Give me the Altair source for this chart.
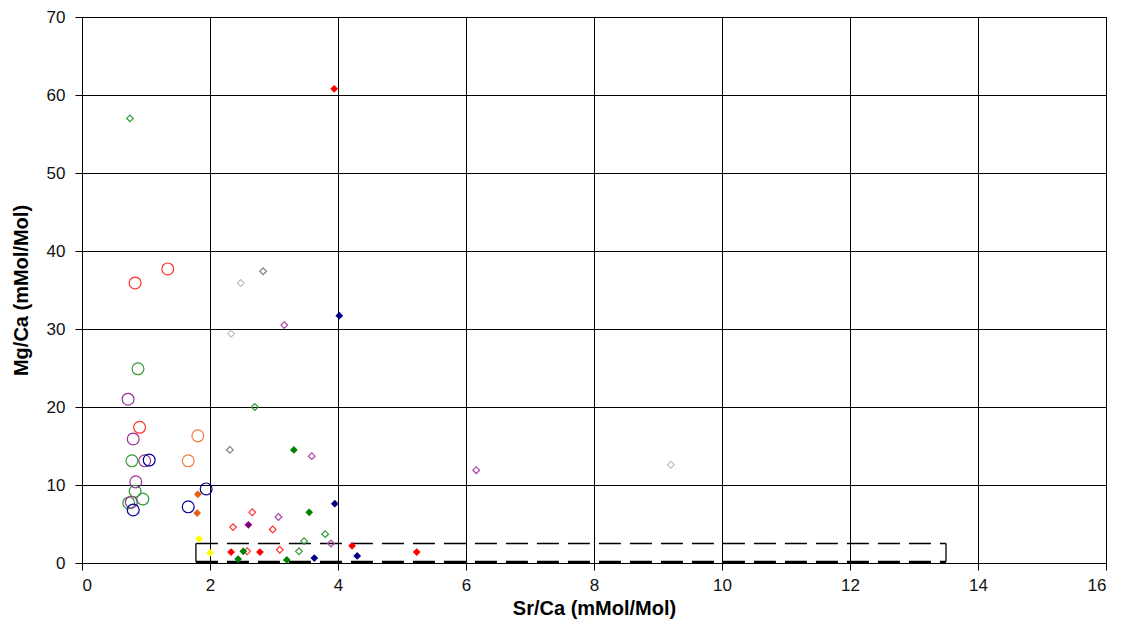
import altair as alt
import pandas as pd

# Sr/Ca vs Mg/Ca ratios (mMol/Mol), grouped by sample set and marker style
series = [
    # name, marker, color, Sr/Ca values, Mg/Ca values
    ("Red circles", "circle", "#FF3333", [0.83, 1.34, 0.90], [35.9, 37.7, 17.4]),
    ("Green circles", "circle", "#339933", [0.875, 0.78, 0.83, 0.95, 0.73], [24.9, 13.1, 9.2, 8.2, 7.7]),
    ("Purple circles", "circle", "#993399", [0.72, 0.80, 0.98, 0.84, 0.77], [21.0, 15.9, 13.1, 10.4, 7.8]),
    ("Navy circles", "circle", "#000099", [1.05, 1.94, 1.66, 0.80], [13.2, 9.5, 7.2, 6.8]),
    ("Orange circles", "circle", "#F07D3A", [1.81, 1.66], [16.3, 13.1]),
    ("Red diamonds", "diamond", "#FF0000", [3.94, 2.33, 2.78, 4.22, 5.23], [60.8, 1.4, 1.4, 2.2, 1.4]),
    ("Navy diamonds", "diamond", "#000080", [4.02, 3.95, 3.63, 4.30], [31.7, 7.6, 0.64, 0.9]),
    ("Green diamonds", "diamond", "#008000", [3.31, 3.55, 2.52, 2.44, 3.20], [14.5, 6.5, 1.5, 0.5, 0.4]),
    ("Purple diamonds", "diamond", "#800080", [2.60], [4.9]),
    ("Orange diamonds", "diamond", "#E06010", [1.81, 1.80], [8.8, 6.4]),
    ("Yellow diamonds", "diamond", "#FFFF00", [1.83, 2.00], [3.1, 1.3]),
    ("Green open diamonds", "open", "#339933", [0.75, 2.70, 3.47, 3.80, 3.39], [57.0, 20.0, 2.8, 3.7, 1.5]),
    ("Purple open diamonds", "open", "#AA44AA", [3.59, 3.07, 3.89, 3.16, 6.16], [13.7, 5.9, 2.5, 30.5, 11.9]),
    ("Red open diamonds", "open", "#FF3333", [2.66, 2.36, 2.98, 2.58, 3.09], [6.5, 4.6, 4.3, 1.5, 1.7]),
    ("Gray open diamonds", "open", "#808080", [2.83, 2.31], [37.4, 14.5]),
    ("Light gray open diamonds", "open", "#C0C0C0", [2.48, 2.33, 9.20], [35.9, 29.4, 12.6]),
]

# Dashed outline around the low Mg/Ca region
box_x = [1.78, 13.5]
box_y = [0.15, 2.5]

x_ticks = list(range(0, 17, 2))
y_ticks = list(range(0, 71, 10))

rows = []
for name, marker, color, xs, ys in series:
    for xv, yv in zip(xs, ys):
        rows.append({"series": name, "marker": marker, "sr_ca": xv, "mg_ca": yv})
df = pd.DataFrame(rows)

names = [s[0] for s in series]
colors = [s[2] for s in series]

font = "Liberation Sans"
x_scale = alt.Scale(domain=[0, 16], nice=False, zero=False)
y_scale = alt.Scale(domain=[0, 70], nice=False, zero=False)

common_axis = dict(
    grid=True, gridColor="#000000", gridOpacity=1, gridWidth=1,
    domainColor="#000000", tickColor="#000000", tickSize=7,
    labelFont=font, labelFontSize=17, labelColor="#111111",
    format="d", titleFont=font, titleFontSize=20, titleFontWeight="bold",
    titleColor="#000000",
)

x_enc = alt.X(
    "sr_ca:Q", scale=x_scale,
    axis=alt.Axis(values=x_ticks, title="Sr/Ca (mMol/Mol)", titleY=51,
                  titleBaseline="alphabetic", labelPadding=7, **common_axis),
)
y_enc = alt.Y(
    "mg_ca:Q", scale=y_scale,
    axis=alt.Axis(values=y_ticks, title="Mg/Ca (mMol/Mol)", titleX=-61, titleY=273,
                  titleAngle=270, titleBaseline="middle", titleAlign="center",
                  labelPadding=10, **common_axis),
)
color_enc = alt.Color("series:N", scale=alt.Scale(domain=names, range=colors), legend=None)

base = alt.Chart(df)

circles = base.transform_filter(alt.datum.marker == "circle").mark_point(
    shape="circle", size=140, filled=False, strokeWidth=1.2, opacity=1
).encode(x=x_enc, y=y_enc, color=color_enc)

diamonds = base.transform_filter(alt.datum.marker == "diamond").mark_point(
    shape="diamond", size=60, filled=True, opacity=1
).encode(x=x_enc, y=y_enc, color=color_enc)

open_diamonds = base.transform_filter(alt.datum.marker == "open").mark_point(
    shape="diamond", size=45, filled=False, strokeWidth=1.2, opacity=1
).encode(x=x_enc, y=y_enc, color=color_enc)

# Outline drawn as four dashed edges; the lower edge is heavier
edges = pd.DataFrame({
    "x1": [box_x[0], box_x[0], box_x[1], box_x[0]],
    "x2": [box_x[1], box_x[0], box_x[1], box_x[1]],
    "y1": [box_y[1], box_y[0], box_y[0], box_y[0]],
    "y2": [box_y[1], box_y[1], box_y[1], box_y[0]],
    "w": [1.3, 1.3, 1.3, 2.4],
})
box = alt.Chart(edges).mark_rule(color="#000000", strokeDash=[22, 9]).encode(
    x=alt.X("x1:Q", scale=x_scale), x2="x2:Q",
    y=alt.Y("y1:Q", scale=y_scale), y2="y2:Q",
    strokeWidth=alt.StrokeWidth("w:Q", scale=None),
)

chart = (
    alt.layer(box, circles, open_diamonds, diamonds)
    .properties(
        width=1024,
        height=546,
        autosize=alt.AutoSizeParams(type="none"),
        padding={"left": 82, "top": 17, "right": 18, "bottom": 64},
        background="#FFFFFF",
    )
    .configure_view(stroke="#000000", strokeWidth=1)
)

chart.save("out.html", embed_options={"renderer": "svg", "actions": False})
